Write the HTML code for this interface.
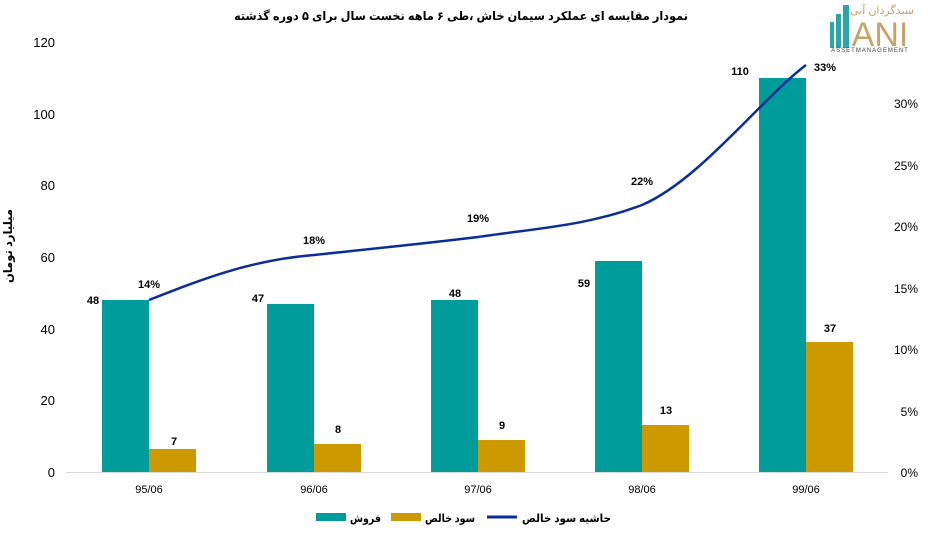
<!DOCTYPE html>
<html><head><meta charset="utf-8"><style>
body{margin:0;background:#fff;}
svg text{font-family:"Liberation Sans","DejaVu Sans",sans-serif;}
</style></head><body>
<svg width="932" height="536" xmlns="http://www.w3.org/2000/svg">
<rect width="932" height="536" fill="#fff"/>
<text x="234" y="20" font-size="12" font-weight="bold" textLength="454" lengthAdjust="spacingAndGlyphs">نمودار مقایسه ای عملکرد سیمان خاش ،طی ۶ ماهه نخست سال برای ۵ دوره گذشته</text>
<!-- logo -->
<g>
<rect x="830" y="22" width="4" height="26" fill="#2aa6a6"/>
<rect x="836" y="14" width="5" height="34" fill="#2aa6a6"/>
<rect x="843" y="5" width="6" height="43" fill="#2aa6a6"/>
<text x="882" y="14" font-size="11" fill="#c7a36a" text-anchor="middle">سبدگردان آنی</text>
<text x="880" y="46" font-size="34" fill="#c7a36a" text-anchor="middle" font-family="Liberation Serif">ANI</text>
<text x="870" y="52" font-size="6" fill="#444" text-anchor="middle" letter-spacing="1">ASSETMANAGEMENT</text>
</g>
<g font-size="13" text-anchor="end" fill="#000">
<text x="55" y="477">0</text><text x="55" y="405">20</text><text x="55" y="334">40</text>
<text x="55" y="262">60</text><text x="55" y="190">80</text><text x="55" y="119">100</text><text x="55" y="47">120</text>
</g>
<g font-size="12" text-anchor="end" fill="#000">
<text x="918" y="477">0%</text><text x="918" y="416">5%</text><text x="918" y="354">10%</text>
<text x="918" y="293">15%</text><text x="918" y="231">20%</text><text x="918" y="170">25%</text><text x="918" y="108">30%</text>
</g>
<text transform="translate(12,246) rotate(-90)" x="-37" y="0" font-size="12" font-weight="bold" textLength="74" lengthAdjust="spacingAndGlyphs">میلیارد تومان</text>
<line x1="66" y1="472.5" x2="888" y2="472.5" stroke="#d9d9d9"/>
<g fill="#009b9b">
<rect x="102" y="300" width="47" height="172"/>
<rect x="267" y="304" width="47" height="168"/>
<rect x="431" y="300" width="47" height="172"/>
<rect x="595" y="261" width="47" height="211"/>
<rect x="759" y="78" width="47" height="394"/>
</g>
<g fill="#cc9900">
<rect x="149" y="449" width="47" height="23"/>
<rect x="314" y="444" width="47" height="28"/>
<rect x="478" y="440" width="47" height="32"/>
<rect x="642" y="425" width="47" height="47"/>
<rect x="806" y="342" width="47" height="130"/>
</g>
<path d="M149,300 C200,280 250,260 314,255 C380,248 420,244 478,237 C540,228 590,225 642,205 C700,180 760,100 806,65" fill="none" stroke="#0a2d9a" stroke-width="2.5"/>
<g font-size="11" font-weight="bold" text-anchor="middle">
<text x="93" y="304">48</text><text x="258" y="302">47</text><text x="455" y="297">48</text>
<text x="584" y="287">59</text><text x="740" y="75">110</text>
<text x="174" y="445">7</text><text x="338" y="433">8</text><text x="502" y="429">9</text>
<text x="666" y="414">13</text><text x="830" y="332">37</text>
<text x="149" y="288">14%</text><text x="314" y="244">18%</text><text x="478" y="222">19%</text>
<text x="642" y="185">22%</text><text x="825" y="71">33%</text>
</g>
<g font-size="11" text-anchor="middle">
<text x="149" y="493">95/06</text><text x="314" y="493">96/06</text><text x="478" y="493">97/06</text>
<text x="642" y="493">98/06</text><text x="806" y="493">99/06</text>
</g>
<rect x="316" y="513" width="30" height="8" fill="#009b9b"/>
<text x="350" y="522" font-size="11" font-weight="bold" textLength="31" lengthAdjust="spacingAndGlyphs">فروش</text>
<rect x="391" y="513" width="30" height="8" fill="#cc9900"/>
<text x="425" y="522" font-size="11" font-weight="bold" textLength="50" lengthAdjust="spacingAndGlyphs">سود خالص</text>
<line x1="487" y1="517" x2="517" y2="517" stroke="#0a2d9a" stroke-width="3"/>
<text x="522" y="522" font-size="11" font-weight="bold" textLength="89" lengthAdjust="spacingAndGlyphs">حاشیه سود خالص</text>
</svg>
</body></html>
